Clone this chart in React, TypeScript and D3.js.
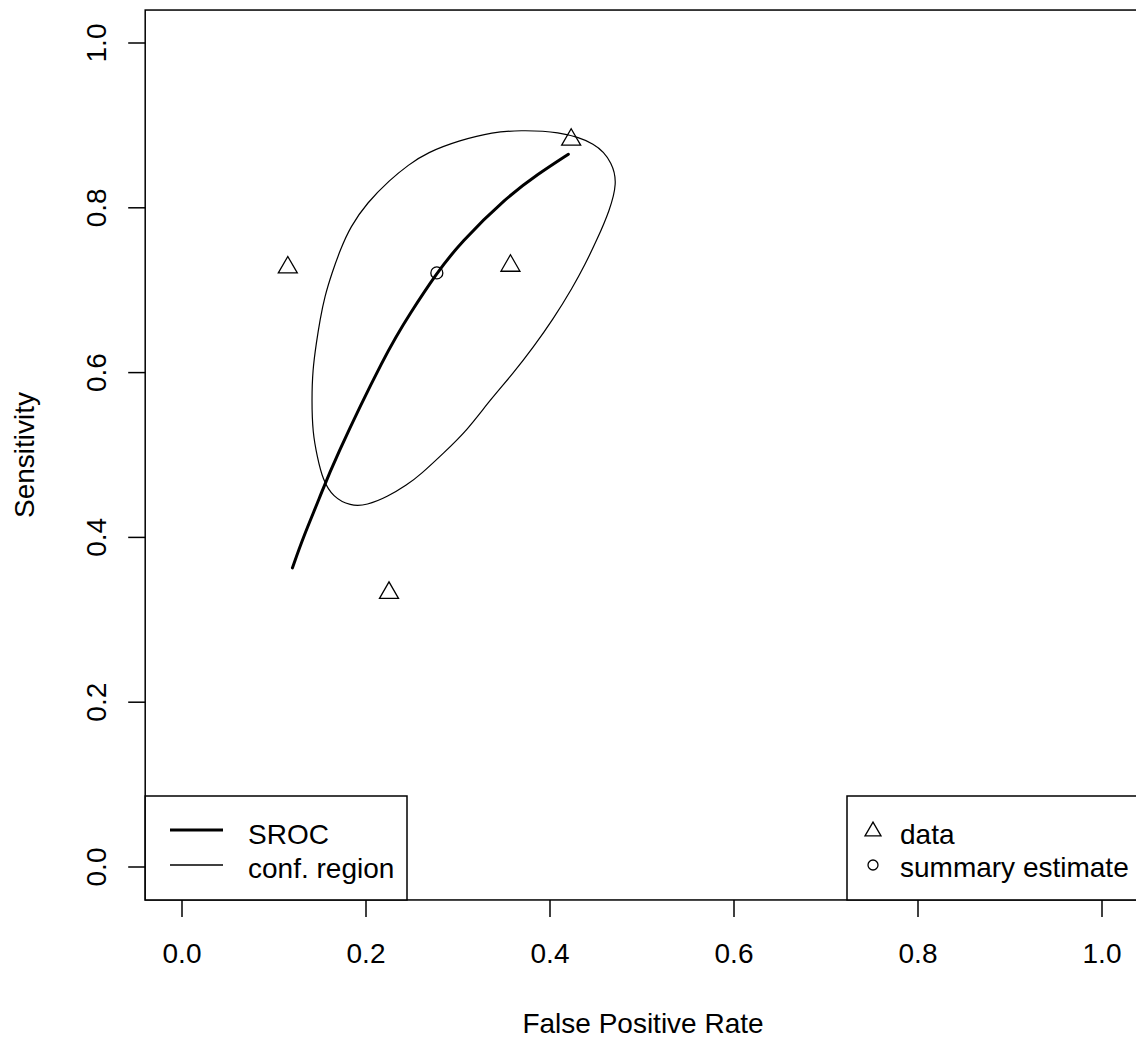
import React from "react";
import * as d3 from "d3";

const xTicks = [0, 0.2, 0.4, 0.6, 0.8, 1.0];
const yTicks = [0, 0.2, 0.4, 0.6, 0.8, 1.0];

const dataFPR = [0.115, 0.357, 0.423, 0.225];
const dataSens = [0.731, 0.733, 0.886, 0.336];

const summaryFPR = 0.277;
const summarySens = 0.721;

const srocFPR = [0.12, 0.132, 0.15, 0.164, 0.222, 0.248, 0.277, 0.302, 0.353, 0.387, 0.42];
const srocSens = [0.363, 0.401, 0.449, 0.49, 0.625, 0.672, 0.721, 0.757, 0.813, 0.841, 0.865];

const regionFPR = [
  0.367, 0.408, 0.451, 0.468, 0.473, 0.465, 0.451, 0.438, 0.425, 0.403, 0.382, 0.36, 0.335,
  0.31, 0.284, 0.259, 0.245, 0.223, 0.201, 0.183, 0.164, 0.153, 0.147, 0.142, 0.141, 0.142,
  0.146, 0.15, 0.155, 0.163, 0.172, 0.183, 0.201, 0.226, 0.246, 0.266, 0.302, 0.338,
];
const regionSens = [
  0.894, 0.893, 0.879, 0.854, 0.83, 0.797, 0.761, 0.731, 0.704, 0.664, 0.631, 0.599, 0.567,
  0.53, 0.502, 0.476, 0.464, 0.449, 0.439, 0.438, 0.449, 0.47, 0.498, 0.527, 0.567, 0.603,
  0.636, 0.664, 0.692, 0.721, 0.749, 0.777, 0.806, 0.834, 0.852, 0.867, 0.882, 0.892,
];

const W = 1136;
const H = 1040;
const FONT = "'Liberation Sans', Arial, sans-serif";
const FS = 28;

export default function App() {
  const x = d3.scaleLinear().domain([0, 1]).range([182, 1102]);
  const y = d3.scaleLinear().domain([0, 1]).range([867, 43]);
  const x0 = x(-0.04);
  const x1 = x(1.04);
  const y0 = y(-0.04);
  const y1 = y(1.04);

  const sroc = d3
    .line<number>()
    .x((_, i) => x(srocFPR[i]))
    .y((d) => y(d))
    .curve(d3.curveBasis)(srocSens);

  const region = d3
    .line<number>()
    .x((_, i) => x(regionFPR[i]))
    .y((d) => y(d))
    .curve(d3.curveBasisClosed)(regionSens);

  const tri = (cx: number, cy: number, s: number) => {
    const h = s * 0.866;
    return `M${cx - s / 2},${cy + h / 2}L${cx + s / 2},${cy + h / 2}L${cx},${cy - h / 2}Z`;
  };

  return (
    <svg
      width={W}
      height={H}
      style={{ position: "absolute", left: 0, top: 0, background: "#fff" }}
      fontFamily={FONT}
    >
      <rect x={0} y={0} width={W} height={H} fill="#fff" />
      <path d={region || ""} fill="none" stroke="#000" strokeWidth={1.2} />
      <path d={sroc || ""} fill="none" stroke="#000" strokeWidth={3} strokeLinecap="round" />
      {dataFPR.map((v, i) => (
        <path key={i} d={tri(x(v), y(dataSens[i]), 19)} fill="none" stroke="#000" strokeWidth={1.3} />
      ))}
      <circle cx={x(summaryFPR)} cy={y(summarySens)} r={6} fill="none" stroke="#000" strokeWidth={1.3} />

      <rect x={x0} y={y1} width={x1 - x0} height={y0 - y1} fill="none" stroke="#000" strokeWidth={1.5} />

      {xTicks.map((t) => (
        <g key={t}>
          <line x1={x(t)} x2={x(t)} y1={y0} y2={y0 + 17} stroke="#000" strokeWidth={1.5} />
          <text x={x(t)} y={963} textAnchor="middle" fontSize={FS} fill="#000">
            {t.toFixed(1)}
          </text>
        </g>
      ))}
      <text x={643} y={1033} textAnchor="middle" fontSize={FS} fill="#000">
        False Positive Rate
      </text>

      {yTicks.map((t) => (
        <g key={t}>
          <line x1={x0 - 17} x2={x0} y1={y(t)} y2={y(t)} stroke="#000" strokeWidth={1.5} />
          <text
            transform={`translate(106,${y(t)}) rotate(-90)`}
            textAnchor="middle"
            fontSize={FS}
            fill="#000"
          >
            {t.toFixed(1)}
          </text>
        </g>
      ))}
      <text
        transform={`translate(34,${(y0 + y1) / 2}) rotate(-90)`}
        textAnchor="middle"
        fontSize={FS}
        fill="#000"
      >
        Sensitivity
      </text>

      <rect x={x0} y={796} width={407 - x0} height={y0 - 796} fill="#fff" stroke="#000" strokeWidth={1.5} />
      <line x1={170} x2={223} y1={830} y2={830} stroke="#000" strokeWidth={3} />
      <line x1={170} x2={223} y1={865} y2={865} stroke="#000" strokeWidth={1.3} />
      <text x={248} y={844} fontSize={FS} fill="#000">SROC</text>
      <text x={248} y={878} fontSize={FS} fill="#000">conf. region</text>

      <rect x={847} y={796} width={x1 - 847} height={y0 - 796} fill="#fff" stroke="#000" strokeWidth={1.5} />
      <path d={tri(873, 829, 16)} fill="none" stroke="#000" strokeWidth={1.3} />
      <circle cx={873} cy={865} r={5} fill="none" stroke="#000" strokeWidth={1.3} />
      <text x={900} y={844} fontSize={FS} fill="#000">data</text>
      <text x={900} y={877} fontSize={FS} fill="#000">summary estimate</text>
    </svg>
  );
}
